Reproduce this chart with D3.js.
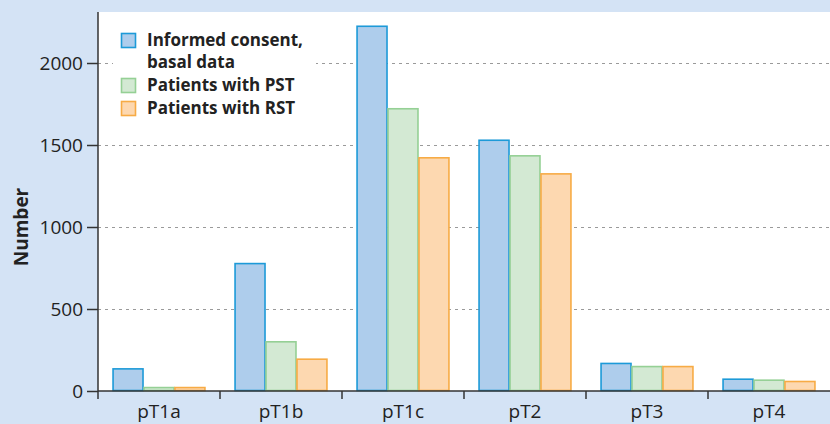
<!DOCTYPE html>
<html><head><meta charset="utf-8">
<script src="https://cdn.jsdelivr.net/npm/d3@7"></script>
<style>body{margin:0;background:#d4e3f5;} svg{display:block;}</style>
</head><body>
<svg id="c" width="830" height="424"></svg>
<script>
const categories = ["pT1a","pT1b","pT1c","pT2","pT3","pT4"];
const seriesNames = ["Informed consent, basal data","Patients with PST","Patients with RST"];
const informed = [138, 780, 2227, 1532, 171, 75];
const pst = [24, 303, 1724, 1437, 152, 69];
const rst = [24, 197, 1425, 1327, 152, 61];
const yTicks = [0, 500, 1000, 1500, 2000];
const yLabel = "Number";

const fills = ["#aecdec", "#d3e9d3", "#fdd8b0"];
const strokes = ["#1d9ad8", "#95d095", "#f7ab45"];
const series = [informed, pst, rst];

const svg = d3.select("#c");
const W = 830, H = 424;
const m = {l: 98, r: 0, t: 12, b: 33};
const x0 = d3.scaleBand().domain(categories).range([m.l, W - m.r]).paddingInner(0).paddingOuter(0);
const x1 = d3.scaleBand().domain([0,1,2]).range([0, x0.bandwidth()]).paddingOuter(0.47).paddingInner(0);
const y = d3.scaleLinear().domain([0, 2311]).range([H - m.b, m.t]);
const font = "'Open Sans', 'Noto Sans', sans-serif";

svg.append("rect").attr("x", m.l).attr("y", m.t).attr("width", W - m.l - m.r).attr("height", H - m.b - m.t).attr("fill", "#fff");

// grid
svg.append("g").selectAll("line").data(yTicks.filter(d => d > 0)).join("line")
  .attr("x1", m.l).attr("x2", W - m.r).attr("y1", d => y(d) + 0.5).attr("y2", d => y(d) + 0.5)
  .attr("stroke", "#9a9a9a").attr("stroke-width", 1).attr("stroke-dasharray", "3,4");

// bars
const g = svg.append("g");
categories.forEach((c, i) => {
  series.forEach((s, k) => {
    g.append("rect")
      .attr("x", x0(c) + x1(k) + 0.5)
      .attr("y", y(s[i]) + 0.5)
      .attr("width", x1.bandwidth() - 1)
      .attr("height", y(0) - y(s[i]) - 1)
      .attr("fill", fills[k]).attr("stroke", strokes[k]).attr("stroke-width", 1.6);
  });
});

// legend
const lg = svg.append("g");
lg.append("rect").attr("x", 113).attr("y", 24).attr("width", 203).attr("height", 98).attr("fill", "#fff");
const legRows = [{y: 40, lines: ["Informed consent,", "basal data"]}, {y: 85, lines: ["Patients with PST"]}, {y: 108, lines: ["Patients with RST"]}];
legRows.forEach((r, k) => {
  lg.append("rect").attr("x", 121.5).attr("y", r.y - 6.5).attr("width", 14).attr("height", 14)
    .attr("fill", fills[k]).attr("stroke", strokes[k]).attr("stroke-width", 1.6);
  r.lines.forEach((t, j) => {
    lg.append("text").attr("x", 147).attr("y", r.y + 6 + j * 22).text(t)
      .attr("font-family", font).attr("font-weight", "bold").attr("font-size", 17).attr("fill", "#222");
  });
});

// axes
const yAxis = d3.axisLeft(y).tickValues(yTicks).tickSize(11).tickPadding(4).tickFormat(d3.format("d"));
const ya = svg.append("g").attr("transform", `translate(${m.l},0)`).call(yAxis);
ya.select(".domain").attr("d", `M0,${m.t}V${H - m.b + 8}`);
ya.selectAll("line").attr("stroke", "#333").attr("stroke-width", 1.5);
ya.select(".domain").attr("stroke", "#333").attr("stroke-width", 1.5);
ya.selectAll("text").attr("font-family", font).attr("font-size", 19).attr("fill", "#222");

const xa = svg.append("g").attr("transform", `translate(0,${H - m.b})`);
xa.append("line").attr("x1", m.l).attr("x2", W).attr("stroke", "#333").attr("stroke-width", 1.5);
xa.selectAll(".tk").data(categories.slice(1)).join("line").attr("class", "tk")
  .attr("x1", d => x0(d)).attr("x2", d => x0(d)).attr("y1", 0).attr("y2", 8)
  .attr("stroke", "#333").attr("stroke-width", 1.5);
xa.selectAll("text").data(categories).join("text")
  .attr("x", d => x0(d) + x0.bandwidth() / 2).attr("y", 27).attr("text-anchor", "middle")
  .attr("font-family", font).attr("font-size", 19).attr("fill", "#222").text(d => d);

svg.append("text").attr("transform", `translate(28,227) rotate(-90)`)
  .attr("text-anchor", "middle").attr("font-family", font).attr("font-weight", "bold")
  .attr("font-size", 19).attr("fill", "#222").text(yLabel);
</script>
</body></html>
